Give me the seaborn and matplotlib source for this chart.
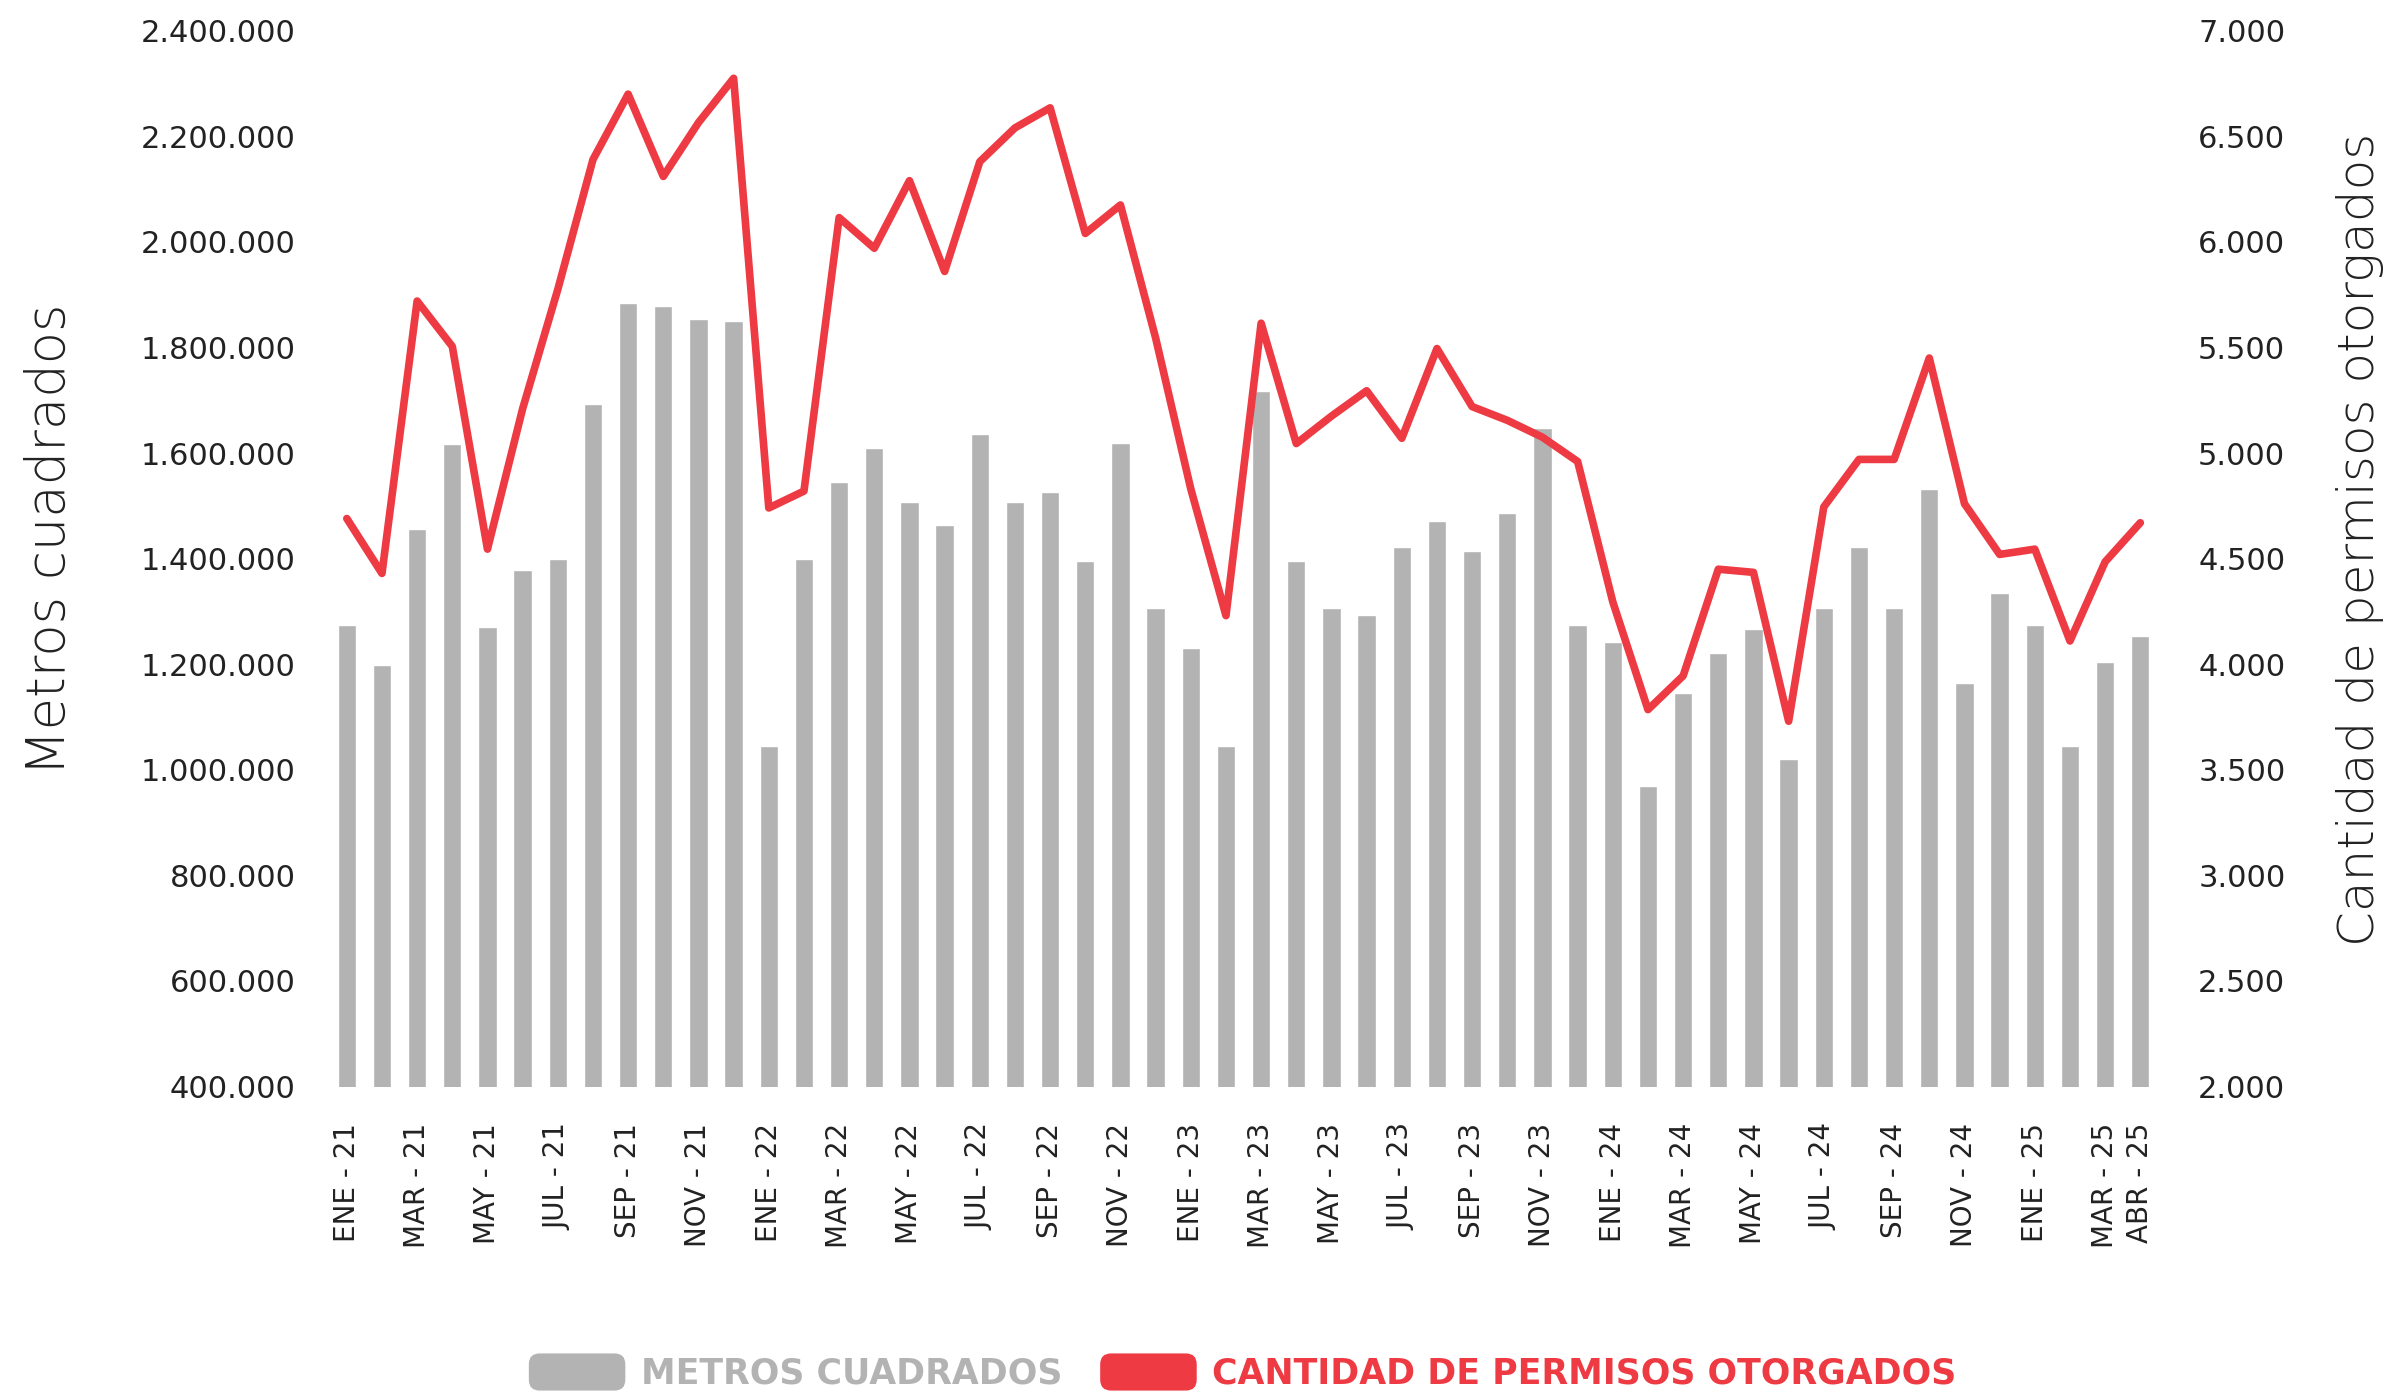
import numpy as np
import pandas as pd
import seaborn as sns
import matplotlib.pyplot as plt
from matplotlib.patches import Patch, FancyBboxPatch
from matplotlib.legend_handler import HandlerPatch
from matplotlib.ticker import FuncFormatter

sns.set_style('white')
plt.rcParams['font.family'] = ['DejaVu Sans']

GRIS = '#b3b3b3'
ROJO = '#ee3a43'
TEXTO = '#222222'

# datos
meses = ['ENE', 'FEB', 'MAR', 'ABR', 'MAY', 'JUN', 'JUL', 'AGO', 'SEP', 'OCT', 'NOV', 'DIC']
anios = ['21', '22', '23', '24', '25']
etiquetas = [f'{m} - {a}' for a in anios for m in meses][:52]

metros = [1274000, 1198000, 1456000, 1617000, 1270000, 1378000, 1399000, 1693000, 1885000, 1878000, 1854000, 1851000,
          1045000, 1399000, 1545000, 1610000, 1507000, 1463000, 1636000, 1507000, 1526000, 1395000, 1619000, 1307000,
          1231000, 1045000, 1717000, 1395000, 1307000, 1293000, 1422000, 1471000, 1414000, 1486000, 1647000, 1274000,
          1243000, 969000, 1145000, 1221000, 1267000, 1020000, 1307000, 1422000, 1307000, 1531000, 1165000, 1334000,
          1274000, 1045000, 1205000, 1254000]

permisos = [4690, 4430, 5720, 5505, 4545, 5210, 5775, 6390, 6700, 6310, 6565, 6775,
            4740, 4820, 6115, 5970, 6290, 5860, 6380, 6540, 6635, 6040, 6175, 5545,
            4830, 4230, 5615, 5045, 5175, 5295, 5070, 5495, 5220, 5155, 5075, 4960,
            4295, 3785, 3945, 4450, 4435, 3730, 4745, 4970, 4970, 5450, 4760, 4520,
            4545, 4110, 4485, 4670]

df = pd.DataFrame({'mes': etiquetas, 'metros': metros, 'permisos': permisos})

fig = plt.figure(figsize=(24.03, 13.98), dpi=100)
ax = fig.add_axes([0.137, 0.2228, 0.761, 0.7552])

# barras
sns.barplot(data=df, x='mes', y='metros', color=GRIS, saturation=1, width=0.52, ax=ax)
ax.set_xlim(-0.5, len(df) - 0.5)
ax.set_ylim(400000, 2400000)
ax.set_yticks(range(400000, 2400001, 200000))
ax.yaxis.set_major_formatter(FuncFormatter(lambda v, _: f'{int(v):,}'.replace(',', '.')))
pos = list(range(0, len(df), 2)) + [len(df) - 1]
ax.set_xticks(pos)
ax.set_xticklabels([etiquetas[i] for i in pos], rotation=90)
ax.tick_params(axis='y', length=0, pad=24, labelsize=22, labelcolor=TEXTO)
ax.tick_params(axis='x', length=0, pad=26, labelsize=20, labelcolor=TEXTO)
ax.set_xlabel('')
ax.set_ylabel('')

# linea
ax2 = ax.twinx()
sns.lineplot(x=np.arange(len(df)), y=df['permisos'], color=ROJO, linewidth=5.5,
             solid_joinstyle='round', solid_capstyle='round', ax=ax2)
ax2.set_ylim(2000, 7000)
ax2.set_yticks(range(2000, 7001, 500))
ax2.yaxis.set_major_formatter(FuncFormatter(lambda v, _: f'{int(v):,}'.replace(',', '.')))
ax2.tick_params(axis='y', length=0, pad=29, labelsize=22, labelcolor=TEXTO)
ax2.set_ylabel('')

for a in (ax, ax2):
    for s in a.spines.values():
        s.set_visible(False)

fig.text(0.0208, 0.614, 'Metros cuadrados', rotation=90, ha='center', va='center',
         fontsize=38, fontweight='light', color=TEXTO)
fig.text(0.982, 0.614, 'Cantidad de permisos otorgados', rotation=90, ha='center', va='center',
         fontsize=36, fontweight='light', color=TEXTO)


# leyenda con cajas redondeadas
def caja(legend, orig_handle, xdescent, ydescent, width, height, fontsize):
    return FancyBboxPatch((-xdescent, -ydescent), width, height,
                          boxstyle=f'round,pad=0,rounding_size={height * 0.3}')


handles = [Patch(facecolor=GRIS), Patch(facecolor=ROJO)]
leg = fig.legend(handles, ['METROS CUADRADOS', 'CANTIDAD DE PERMISOS OTORGADOS'],
                 loc='center', bbox_to_anchor=(0.517, 0.0186), ncol=2, frameon=False,
                 prop={'weight': 'bold', 'size': 25},
                 handlelength=2.82, handleheight=1.33, handletextpad=0.43, columnspacing=1.07,
                 handler_map={Patch: HandlerPatch(patch_func=caja)})
for t, c in zip(leg.get_texts(), [GRIS, ROJO]):
    t.set_color(c)

fig.savefig('out.png', dpi=100)
